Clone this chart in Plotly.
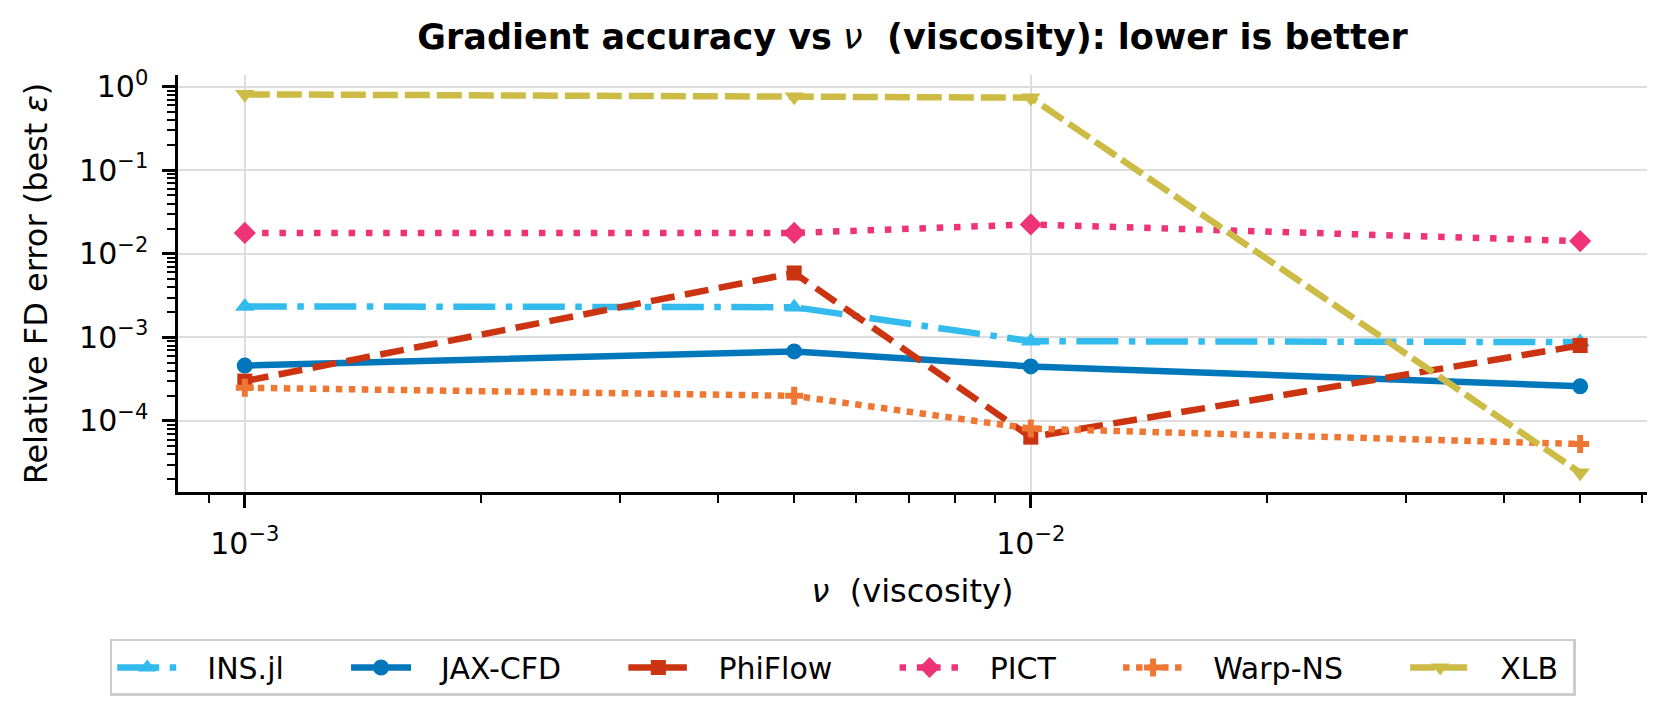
import plotly.graph_objects as go

# ---- data ----
nu = [1e-3, 5e-3, 1e-2, 5e-2]
series_names = ["INS.jl", "JAX-CFD", "PhiFlow", "PICT", "Warp-NS", "XLB"]
ins_jl = [2.35e-3, 2.3e-3, 9.0e-4, 8.8e-4]
jax_cfd = [4.6e-4, 6.8e-4, 4.5e-4, 2.6e-4]
phiflow = [3.0e-4, 5.9e-3, 6.4e-5, 8.0e-4]
pict = [1.78e-2, 1.78e-2, 2.25e-2, 1.42e-2]
warp_ns = [2.5e-4, 2.0e-4, 8.1e-5, 5.3e-5]
xlb = [0.81, 0.76, 0.74, 2.4e-5]
y_tick_vals = [1e-4, 1e-3, 1e-2, 1e-1, 1]
y_tick_text = ["10<sup>\u22124</sup>", "10<sup>\u22123</sup>", "10<sup>\u22122</sup>",
               "10<sup>\u22121</sup>", "10<sup>0</sup>"]
x_tick_vals = [1e-3, 1e-2]
x_tick_text = ["10<sup>\u22123</sup>", "10<sup>\u22122</sup>"]

values = [ins_jl, jax_cfd, phiflow, pict, warp_ns, xlb]

# ---- styles ----
colors = ["#33BBEE", "#0077BB", "#CC3311", "#EE3377", "#EE7733", "#CCBB44"]
dashes = ["42px,10.5px,6.5px,10.5px", "solid", "24px,10.5px", "6.5px,10.8px",
          "6.5px,6.5px", "25px,7px"]
symbols = ["triangle-up", "circle", "square", "diamond", "cross", "triangle-down"]
msizes = [17, 16, 15, 17, 15, 17]
LW = 6.5
FONT = "DejaVu Sans"
lead = "\u00a0\u00a0\u2009"
trail = "\u00a0" * 6

fig = go.Figure()
for i, (name, vals) in enumerate(zip(series_names, values)):
    label = lead + name + (trail if i < len(series_names) - 1 else "\u00a0")
    fig.add_trace(go.Scatter(
        x=nu, y=vals, name=label, mode="lines+markers",
        line=dict(color=colors[i], width=LW, dash=dashes[i]),
        marker=dict(symbol=symbols[i], size=msizes[i], color=colors[i],
                    line=dict(width=0)),
    ))

minor_x = [k * 10.0 ** e for e in range(-4, -1) for k in range(2, 10)]
minor_y = [k * 10.0 ** e for e in range(-6, 1) for k in range(2, 10)]

axis_common = dict(
    type="log", showline=True, linecolor="black", linewidth=2.5, mirror=False,
    ticks="outside", ticklen=13, tickwidth=2.5, tickcolor="black",
    showgrid=True, gridcolor="#dddddd", gridwidth=2, zeroline=False,
    tickfont=dict(family=FONT, size=30, color="black"),
)

fig.update_xaxes(
    **axis_common,
    range=[-3.085, -1.216],
    tickmode="array", tickvals=x_tick_vals, ticktext=x_tick_text,
    minor=dict(ticks="outside", ticklen=8, tickwidth=2, tickcolor="black",
               tickmode="array", tickvals=minor_x, showgrid=False),
    title=dict(text="<i>\u03bd</i>\u00a0\u00a0(viscosity)",
               font=dict(family=FONT, size=32, color="black"), standoff=20),
    ticklabelstandoff=10,
)
fig.update_yaxes(
    **axis_common,
    range=[-4.85, 0.14],
    tickmode="array", tickvals=y_tick_vals, ticktext=y_tick_text,
    minor=dict(ticks="outside", ticklen=8, tickwidth=2, tickcolor="black",
               tickmode="array", tickvals=minor_y, showgrid=False),
    title=dict(text="Relative FD error (best <i>\u03b5</i>)",
               font=dict(family=FONT, size=32, color="black"), standoff=22),
    ticklabelstandoff=8,
)

fig.update_layout(
    width=1672, height=712, autosize=False,
    margin=dict(l=178, r=25, t=75, b=220, autoexpand=False),
    paper_bgcolor="white", plot_bgcolor="white",
    font=dict(family=FONT, size=30, color="black"),
    title=dict(
        text="<b>Gradient accuracy vs</b> <i>\u03bd</i><b>\u00a0\u00a0(viscosity): lower is better</b>",
        font=dict(family=FONT, size=35, color="black"),
        x=0.5, xref="paper", xanchor="center",
        y=1 - 37 / 712, yref="container", yanchor="middle",
    ),
    showlegend=True,
    legend=dict(
        orientation="h", x=0.4525, xanchor="center", y=-0.3525, yanchor="top",
        bordercolor="#cccccc", borderwidth=2.5, bgcolor="white",
        font=dict(family=FONT, size=30, color="black"),
        itemwidth=60, traceorder="normal",
    ),
)

fig.write_html("out.html", config={"displayModeBar": False},
               post_script="document.body.style.margin='0';")
